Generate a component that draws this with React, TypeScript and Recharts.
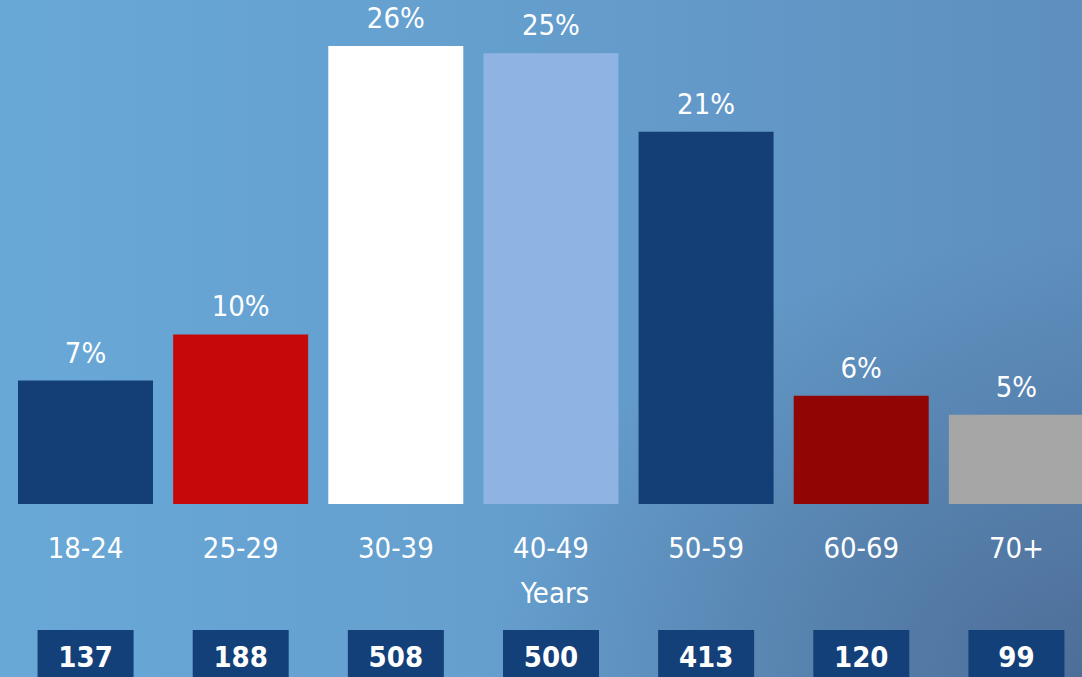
import React from 'react';
import { BarChart, Bar, XAxis, YAxis, Cell, LabelList } from 'recharts';

const categories = ['18-24', '25-29', '30-39', '40-49', '50-59', '60-69', '70+'];
const shares = [6.97, 9.57, 25.85, 25.45, 21.02, 6.11, 5.04];
const shareLabels = ['7%', '10%', '26%', '25%', '21%', '6%', '5%'];
const counts = [137, 188, 508, 500, 413, 120, 99];
const barColors = ['#143f76', '#c50808', '#ffffff', '#8fb4e3', '#143f76', '#920505', '#a6a6a6'];

const data = categories.map((c, i) => ({ name: c, value: shares[i], label: shareLabels[i], count: counts[i] }));

const FONT = '"DejaVu Sans Condensed", "DejaVu Sans", sans-serif';

const Tick = (props: any) => {
  const { x, y, payload } = props;
  const idx = payload?.index ?? props.index ?? 0;
  return (
    <g>
      <text x={x} y={y + 54} textAnchor="middle" fill="#ffffff" fontSize={29} fontFamily={FONT}>
        {payload.value}
      </text>
      <rect x={x - 48} y={y + 126} width={96} height={60} fill="#14407a" />
      <text x={x} y={y + 163} textAnchor="middle" fill="#ffffff" fontSize={29} fontWeight="bold" fontFamily={FONT}>
        {counts[idx]}
      </text>
    </g>
  );
};

const YearsLabel = (props: any) => {
  const vb = props.viewBox || {};
  const cx = (vb.x ?? 0) + (vb.width ?? 0) / 2;
  const top = vb.y ?? 0;
  return (
    <text x={cx + 4} y={top + 99} textAnchor="middle" fill="#ffffff" fontSize={29} fontFamily={FONT}>
      Years
    </text>
  );
};

export default function App() {
  return (
    <div
      style={{
        position: 'absolute',
        left: 0,
        top: 0,
        width: 1082,
        height: 677,
        overflow: 'hidden',
        background:
          'radial-gradient(ellipse 55% 65% at 100% 100%, rgba(66,88,126,0.6), rgba(66,88,126,0) 100%), linear-gradient(to right, #68a8d7 0%, #659fce 45%, #5e8fbe 100%)',
      }}
    >
      <BarChart
        width={1094}
        height={677}
        data={data}
        margin={{ top: 8, right: 0, left: 8, bottom: 0 }}
        barCategoryGap={10}
      >
        <XAxis
          dataKey="name"
          axisLine={false}
          tickLine={false}
          tickSize={0}
          tickMargin={0}
          interval={0}
          height={173}
          tick={<Tick />}
          label={<YearsLabel />}
        />
        <YAxis hide domain={[0, 28]} />
        <Bar dataKey="value" isAnimationActive={false}>
          {data.map((d, i) => (
            <Cell key={d.name} fill={barColors[i]} />
          ))}
          <LabelList dataKey="label" position="top" offset={18} fill="#ffffff" fontSize={29} fontFamily={FONT} />
        </Bar>
      </BarChart>
    </div>
  );
}
